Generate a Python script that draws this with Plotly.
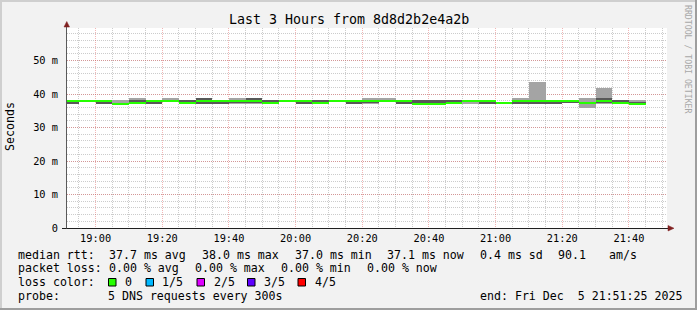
import plotly.graph_objects as go

# ---------------- data (RTT in milliseconds, 5-minute bins, bin end times) ----------------
times = [
    "2025-12-05 18:55", "2025-12-05 19:00", "2025-12-05 19:05", "2025-12-05 19:10",
    "2025-12-05 19:15", "2025-12-05 19:20", "2025-12-05 19:25", "2025-12-05 19:30",
    "2025-12-05 19:35", "2025-12-05 19:40", "2025-12-05 19:45", "2025-12-05 19:50",
    "2025-12-05 19:55", "2025-12-05 20:00", "2025-12-05 20:05", "2025-12-05 20:10",
    "2025-12-05 20:15", "2025-12-05 20:20", "2025-12-05 20:25", "2025-12-05 20:30",
    "2025-12-05 20:35", "2025-12-05 20:40", "2025-12-05 20:45", "2025-12-05 20:50",
    "2025-12-05 20:55", "2025-12-05 21:00", "2025-12-05 21:05", "2025-12-05 21:10",
    "2025-12-05 21:15", "2025-12-05 21:20", "2025-12-05 21:25", "2025-12-05 21:30",
    "2025-12-05 21:35", "2025-12-05 21:40", "2025-12-05 21:45",
]
ping1 = [37.1, 37.9, 36.9, 37.0, 37.1, 37.1, 37.7, 37.1, 36.9, 36.9, 36.9, 37.1,
         37.1, 37.9, 37.1, 37.1, 37.9, 36.9, 36.9, 37.9, 37.1, 36.9, 36.9, 37.1,
         36.9, 37.1, 37.1, 37.0, 37.1, 37.1, 37.4, 35.9, 36.9, 37.0, 37.0]
ping2 = [37.1, 37.9, 36.9, 37.1, 37.2, 37.1, 37.8, 37.2, 36.9, 36.9, 37.2, 37.4,
         37.1, 37.9, 37.1, 37.1, 37.9, 36.9, 37.3, 37.9, 37.1, 36.9, 36.9, 37.1,
         37.9, 37.1, 37.1, 37.0, 37.1, 37.1, 37.4, 37.0, 37.3, 37.1, 37.0]
median = [38.0, 38.0, 38.0, 37.1, 37.3, 38.0, 37.9, 37.3, 38.0, 38.0, 37.9, 37.9,
          37.2, 38.0, 38.0, 37.3, 38.0, 38.0, 38.0, 38.0, 38.0, 37.1, 37.1, 37.3,
          38.0, 38.0, 37.2, 37.9, 38.0, 38.0, 38.0, 37.2, 37.8, 37.2, 37.1]
ping4 = [38.0, 38.0, 38.0, 37.3, 38.1, 38.0, 38.1, 38.1, 38.9, 38.0, 38.2, 38.9,
         38.1, 38.0, 38.0, 38.1, 38.0, 38.0, 38.0, 38.0, 38.0, 38.1, 38.1, 38.1,
         38.0, 38.0, 37.3, 38.2, 38.3, 38.0, 38.0, 37.7, 38.7, 38.1, 37.6]
ping5 = [38.0, 38.1, 38.0, 38.1, 38.9, 38.0, 38.9, 38.1, 38.9, 38.0, 38.9, 38.9,
         38.1, 38.1, 38.0, 38.1, 38.1, 38.0, 38.9, 38.9, 38.0, 38.1, 38.1, 38.1,
         38.0, 38.0, 37.3, 38.9, 43.5, 38.0, 38.0, 38.9, 41.7, 38.1, 38.3]
loss = [0] * len(times)  # packets lost out of 5 in every bin

loss_labels = ["0", "1/5", "2/5", "3/5", "4/5"]
loss_colors = ["#26ff00", "#00b8ff", "#dd00ff", "#5e00ff", "#ff0000"]

y_ticks = [0, 10, 20, 30, 40, 50]
y_ticktext = ["0", "10 m", "20 m", "30 m", "40 m", "50 m"]

stats_rtt = ["median rtt:", "37.7 ms avg", "38.0 ms max", "37.0 ms min", "37.1 ms now",
             "0.4 ms sd", "90.1", "am/s"]
stats_loss = ["packet loss:", "0.00 % avg", "0.00 % max", "0.00 % min", "0.00 % now"]

# ---------------- geometry helpers ----------------
W, H = 697, 310
L, T, PW, PH = 67, 28, 600, 200
MONO = "DejaVu Sans Mono"


def px(x):
    return (x - L) / PW


def py(y):
    return (T + PH - y) / PH


fig = go.Figure()

STEP = 300000  # 5 min in ms
fig.add_bar(x=times, y=[b - a for a, b in zip(ping1, ping5)], base=ping1,
            width=STEP, offset=-STEP, marker=dict(color="#a4a4a4", line_width=0),
            hoverinfo="skip")
fig.add_bar(x=times, y=[b - a for a, b in zip(ping2, ping4)], base=ping2,
            width=STEP, offset=-STEP, marker=dict(color="#585858", line_width=0),
            hoverinfo="skip")
LW = 0.6  # median line thickness (ms ~ 2px)
fig.add_bar(x=times, y=[LW] * len(median), base=[m - LW / 2 for m in median],
            width=STEP, offset=-STEP,
            marker=dict(color=[loss_colors[l] for l in loss], line_width=0),
            hoverinfo="skip")

major_grid = "rgba(222,79,79,0.42)"
minor_grid = "rgba(143,143,143,0.45)"

fig.update_layout(
    width=W, height=H,
    margin=dict(l=L, r=W - L - PW, t=T, b=H - T - PH, pad=0),
    paper_bgcolor="#f2f2f2", plot_bgcolor="#ffffff",
    showlegend=False, barmode="overlay", bargap=0,
    font=dict(family=MONO, color="#000000"),
    xaxis=dict(
        type="date", range=["2025-12-05 18:51:25", "2025-12-05 21:51:25"],
        tick0="2025-12-05 19:00", dtick=1200000, tickformat="%H:%M",
        showgrid=True, gridcolor=major_grid, gridwidth=1, griddash="1px,1px",
        minor=dict(tick0="2025-12-05 19:00", dtick=STEP, showgrid=True,
                   gridcolor=minor_grid, gridwidth=1, griddash="1px,1px"),
        showline=False, zeroline=False,
        ticks="outside", ticklen=1, tickcolor="rgba(0,0,0,0)",
        tickfont=dict(family=MONO, size=10.3, color="#000000"),
    ),
    yaxis=dict(
        range=[0, 59.7], tickvals=y_ticks, ticktext=y_ticktext,
        showgrid=True, gridcolor=major_grid, gridwidth=1, griddash="1px,1px",
        minor=dict(tick0=0, dtick=2, showgrid=True,
                   gridcolor=minor_grid, gridwidth=1, griddash="1px,1px"),
        showline=False, zeroline=False,
        ticks="outside", ticklen=6, tickcolor="rgba(0,0,0,0)",
        tickfont=dict(family=MONO, size=10.3, color="#000000"),
    ),
)

shapes = []
# bevel border
shapes.append(dict(type="rect", xref="paper", yref="paper", x0=px(0), x1=px(W), y0=py(0), y1=py(2),
                   fillcolor="#cfcfcf", line_width=0, layer="above"))
shapes.append(dict(type="rect", xref="paper", yref="paper", x0=px(0), x1=px(2), y0=py(0), y1=py(H),
                   fillcolor="#cfcfcf", line_width=0, layer="above"))
shapes.append(dict(type="rect", xref="paper", yref="paper", x0=px(0), x1=px(W), y0=py(H - 2), y1=py(H),
                   fillcolor="#9e9e9e", line_width=0, layer="above"))
shapes.append(dict(type="rect", xref="paper", yref="paper", x0=px(W - 2), x1=px(W), y0=py(0), y1=py(H),
                   fillcolor="#9e9e9e", line_width=0, layer="above"))
# axes
shapes.append(dict(type="line", xref="paper", yref="paper", x0=px(62), x1=px(669), y0=py(228.5), y1=py(228.5),
                   line=dict(color="#1f1f1f", width=1), layer="above"))
shapes.append(dict(type="line", xref="paper", yref="paper", x0=px(66.5), x1=px(66.5), y0=py(228.5), y1=py(26),
                   line=dict(color="#5a5a5a", width=1), layer="above"))
# arrows
shapes.append(dict(type="path", xref="paper", yref="paper",
                   path=f"M {px(64)} {py(27)} L {px(69.5)} {py(27)} L {px(66.75)} {py(21.5)} Z",
                   fillcolor="#802020", line=dict(color="#802020", width=0.5), layer="above"))
shapes.append(dict(type="path", xref="paper", yref="paper",
                   path=f"M {px(668)} {py(225.5)} L {px(668)} {py(231)} L {px(674)} {py(228.25)} Z",
                   fillcolor="#802020", line=dict(color="#802020", width=0.5), layer="above"))
# loss colour boxes
box_x = [108.5, 146, 197, 247.5, 298]
for bx, col in zip(box_x, loss_colors):
    shapes.append(dict(type="rect", xref="paper", yref="paper", x0=px(bx), x1=px(bx + 7.5),
                       y0=py(286), y1=py(278.5), fillcolor=col,
                       line=dict(color="#000000", width=1), layer="above"))
fig.update_layout(shapes=shapes)

ann = []


def text(x, y, s, size=11.6, anchor="left", color="#000000", angle=0):
    ann.append(dict(x=px(x), y=py(y), xref="paper", yref="paper", text=s, showarrow=False,
                    xanchor=anchor, yanchor="middle", textangle=angle,
                    font=dict(family=MONO, size=size, color=color)))


text(348.5, 20, "Last 3 Hours from 8d8d2b2e4a2b", size=13.3, anchor="center")
text(10, 127, "Seconds", size=11.6, anchor="center", angle=-90)
text(688, 59, "RRDTOOL / TOBI OETIKER", size=8.2, anchor="center", color="#a8a8a8", angle=90)

rtt_x = [16, 107.3, 200, 292.7, 385, 478.3, 556, 606.5]
for x, s in zip(rtt_x, stats_rtt):
    text(x, 255, s)
loss_x = [16, 107.3, 193.3, 279.3, 365]
for x, s in zip(loss_x, stats_loss):
    text(x, 268.3, s)
text(16, 282.3, "loss color:")
lab_x = [123, 160, 211.7, 261.7, 312.7]
for x, s in zip(lab_x, loss_labels):
    text(x, 282.3, s)
text(16, 295.8, "probe:")
text(106, 295.8, "5 DNS requests every 300s")
text(478.3, 295.8, "end: Fri Dec  5 21:51:25 2025")

fig.update_layout(annotations=ann)
fig.write_html("out.html")
